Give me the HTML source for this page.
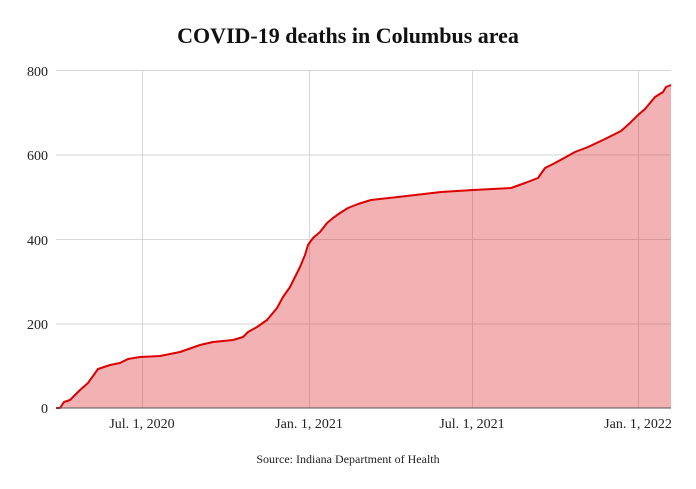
<!DOCTYPE html>
<html><head><meta charset="utf-8"><style>
html,body{margin:0;padding:0;background:#fff;width:696px;height:489px;overflow:hidden}
</style></head><body>
<svg width="696" height="489" viewBox="0 0 696 489" xmlns="http://www.w3.org/2000/svg" font-family="Liberation Serif, serif">
<text x="348" y="43" text-anchor="middle" font-size="22" font-weight="bold" fill="#111">COVID-19 deaths in Columbus area</text>
<g stroke="#d6d6d6" stroke-width="1">
<line x1="56" y1="70.5" x2="671" y2="70.5"/>
<line x1="56" y1="155" x2="671" y2="155"/>
<line x1="56" y1="239.5" x2="671" y2="239.5"/>
<line x1="56" y1="324" x2="671" y2="324"/>
<line x1="142.5" y1="70" x2="142.5" y2="408"/>
<line x1="309.5" y1="70" x2="309.5" y2="408"/>
<line x1="472.5" y1="70" x2="472.5" y2="408"/>
<line x1="638.5" y1="70" x2="638.5" y2="408"/>
</g>
<path d="M56,408 L60,408 L64,402 L70,400 L75,395 L80,390 L88,383 L98,369 L110,365 L120,363 L128,359 L140,357 L160,356 L180,352 L200,345 L213,342 L233,340 L243,337 L248,332 L257,327 L267,320 L277,308 L283,297 L290,287 L295,277 L300,267 L305,255 L308,245 L313,238 L320,232 L327,223 L333,218 L340,213 L348,208 L358,204 L371,200 L398,197 L441,192 L473,190 L511,188 L525,183 L538,178 L545,168 L555,163 L575,152 L588,147 L605,139 L621,131 L630,123 L638,115 L645,109 L655,97 L663,92 L666,87 L671,85 L671,408 Z" fill="rgba(220,40,45,0.36)"/>
<path d="M56,408 L60,408 L64,402 L70,400 L75,395 L80,390 L88,383 L98,369 L110,365 L120,363 L128,359 L140,357 L160,356 L180,352 L200,345 L213,342 L233,340 L243,337 L248,332 L257,327 L267,320 L277,308 L283,297 L290,287 L295,277 L300,267 L305,255 L308,245 L313,238 L320,232 L327,223 L333,218 L340,213 L348,208 L358,204 L371,200 L398,197 L441,192 L473,190 L511,188 L525,183 L538,178 L545,168 L555,163 L575,152 L588,147 L605,139 L621,131 L630,123 L638,115 L645,109 L655,97 L663,92 L666,87 L671,85" fill="none" stroke="#dd0000" stroke-width="2" stroke-linejoin="round"/>
<line x1="56" y1="408" x2="671" y2="408" stroke="#555" stroke-width="1"/>
<g font-size="14" fill="#222" text-anchor="end">
<text x="48" y="76">800</text>
<text x="48" y="160">600</text>
<text x="48" y="245">400</text>
<text x="48" y="329">200</text>
<text x="48" y="413">0</text>
</g>
<g font-size="14" fill="#222" text-anchor="middle">
<text x="142" y="428">Jul. 1, 2020</text>
<text x="309" y="428">Jan. 1, 2021</text>
<text x="472" y="428">Jul. 1, 2021</text>
<text x="638" y="428">Jan. 1, 2022</text>
</g>
<text x="348" y="463" text-anchor="middle" font-size="12" fill="#222">Source: Indiana Department of Health</text>
</svg>
</body></html>
